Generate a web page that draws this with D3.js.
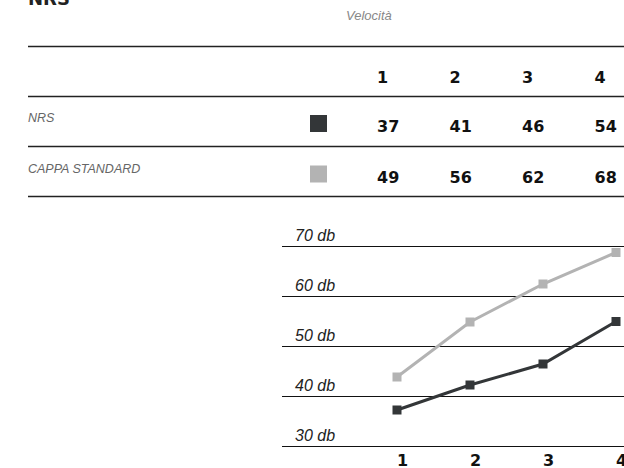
<!DOCTYPE html>
<html>
<head>
<meta charset="utf-8">
<script src="https://cdn.jsdelivr.net/npm/d3@7"></script>
<style>
  body { margin: 0; background: #fff; }
  svg { display: block; }
</style>
</head>
<body>
<svg id="chart"></svg>
<script>
var width = 624, height = 468;

// data
var speeds = [1, 2, 3, 4];
var seriesNames = ["NRS", "CAPPA STANDARD"];
var seriesColors = ["#333638", "#b3b3b3"];
var tableNRS = [37, 41, 46, 54];
var tableCappa = [49, 56, 62, 68];
// values as drawn in the line chart
var plotNRS = [37.3, 42.3, 46.5, 55.0];
var plotCappa = [43.9, 54.9, 62.5, 68.8];
var dbTicks = [30, 40, 50, 60, 70];

var svg = d3.select("#chart")
  .attr("width", width)
  .attr("height", height);

// title, cut off at top
svg.append("text")
  .attr("x", 28)
  .attr("y", 5)
  .style("font-family", "DejaVu Sans")
  .style("font-weight", "bold")
  .style("font-size", "18px")
  .style("fill", "#222")
  .text("NRS");

svg.append("text")
  .attr("x", 346)
  .attr("y", 20)
  .style("font-family", "Liberation Sans")
  .style("font-style", "italic")
  .style("font-size", "13px")
  .style("fill", "#888")
  .text("Velocità");

// ---- table ----
var col = d3.scalePoint()
  .domain(speeds)
  .range([377, 594.5]);

var rowLines = [46.5, 96.5, 146.5, 196.5];
svg.selectAll(".rowline")
  .data(rowLines)
  .enter()
  .append("line")
  .attr("class", "rowline")
  .attr("x1", 28)
  .attr("x2", width)
  .attr("y1", d => d)
  .attr("y2", d => d)
  .style("stroke", "#222")
  .style("stroke-width", 1.4);

var numStyle = function(sel) {
  sel.style("font-family", "DejaVu Sans")
    .style("font-weight", "bold")
    .style("font-size", "16px")
    .style("fill", "#111");
};

// header
svg.selectAll(".head")
  .data(speeds)
  .enter()
  .append("text")
  .attr("class", "head")
  .attr("x", d => col(d))
  .attr("y", 83)
  .call(numStyle)
  .text(d => d);

var rows = [tableNRS, tableCappa];
rows.forEach((vals, i) => {
  var base = 132 + i * 50.5;
  svg.append("text")
    .attr("x", 28)
    .attr("y", base - 10)
    .style("font-family", "Liberation Sans")
    .style("font-style", "italic")
    .style("font-size", "12.5px")
    .style("fill", "#666")
    .text(seriesNames[i]);

  svg.append("rect")
    .attr("x", 310)
    .attr("y", base - 17)
    .attr("width", 17)
    .attr("height", 17)
    .style("fill", seriesColors[i]);

  svg.selectAll(".val" + i)
    .data(vals)
    .enter()
    .append("text")
    .attr("class", "val" + i)
    .attr("x", (d, j) => col(speeds[j]))
    .attr("y", base)
    .call(numStyle)
    .text(d => d);
});

// ---- line chart ----
var x = d3.scalePoint()
  .domain(speeds)
  .range([397, 616]);

var y = d3.scaleLinear()
  .domain([30, 70])
  .range([446.5, 246.5]);

svg.selectAll(".grid")
  .data(dbTicks)
  .enter()
  .append("line")
  .attr("class", "grid")
  .attr("x1", 282)
  .attr("x2", width)
  .attr("y1", d => y(d))
  .attr("y2", d => y(d))
  .style("stroke", "#111")
  .style("stroke-width", 1.2);

svg.selectAll(".dblabel")
  .data(dbTicks)
  .enter()
  .append("text")
  .attr("class", "dblabel")
  .attr("x", 295)
  .attr("y", d => y(d) - 6)
  .style("font-family", "Liberation Sans")
  .style("font-style", "italic")
  .style("font-size", "16px")
  .style("fill", "#222")
  .text(d => d + " db");

svg.selectAll(".xlabel")
  .data(speeds)
  .enter()
  .append("text")
  .attr("class", "xlabel")
  .attr("x", d => x(d))
  .attr("y", 466)
  .call(numStyle)
  .text(d => d);

var line = d3.line()
  .x((d, i) => x(speeds[i]))
  .y(d => y(d));

[plotCappa, plotNRS].forEach((vals, k) => {
  var color = k == 0 ? seriesColors[1] : seriesColors[0];
  svg.append("path")
    .datum(vals)
    .attr("d", line)
    .style("fill", "none")
    .style("stroke", color)
    .style("stroke-width", 3);

  svg.selectAll(".mark" + k)
    .data(vals)
    .enter()
    .append("rect")
    .attr("class", "mark" + k)
    .attr("x", (d, i) => x(speeds[i]) - 4.5)
    .attr("y", d => y(d) - 4.5)
    .attr("width", 9)
    .attr("height", 9)
    .style("fill", color);
});
</script>
</body>
</html>
